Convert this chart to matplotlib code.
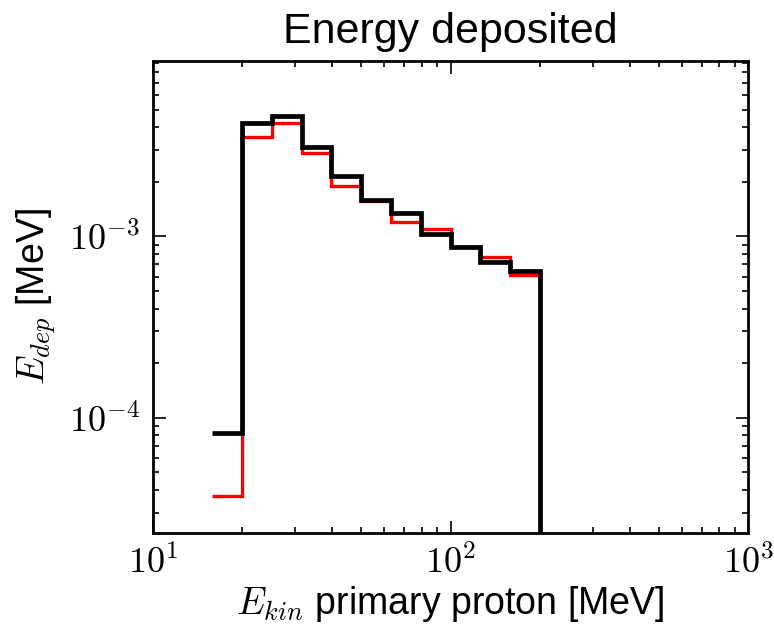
import numpy as np
import matplotlib
matplotlib.use("Agg")
import matplotlib.pyplot as plt
from matplotlib.ticker import FuncFormatter, LogLocator

plt.rcParams['font.family'] = ['Liberation Sans', 'DejaVu Sans']
plt.rcParams['mathtext.fontset'] = 'cm'

# log-spaced bin edges of the primary proton kinetic energy [MeV]
bin_edges = [15.85, 19.95, 25.12, 31.62, 39.81, 50.12, 63.10, 79.43, 100.0, 125.9, 158.5, 199.5]

# deposited energy per bin [MeV]
edep_red = [3.7e-5, 3.54e-3, 4.23e-3, 2.89e-3, 1.89e-3, 1.57e-3,
            1.20e-3, 1.093e-3, 0.87e-3, 0.769e-3, 0.610e-3]
edep_black = [8.2e-5, 4.2e-3, 4.62e-3, 3.12e-3, 2.15e-3, 1.585e-3,
              1.34e-3, 1.026e-3, 0.877e-3, 0.724e-3, 0.644e-3]

fig = plt.figure(figsize=(7.74, 6.25), dpi=100)
ax = fig.add_axes([0.1973, 0.1467, 0.7695, 0.7562])

# last point drops to zero so the histogram closes at the final edge
ax.plot(bin_edges, np.append(edep_red, 0.0), drawstyle='steps-post',
        color='#ff0000', linewidth=2.4, solid_joinstyle='miter', solid_capstyle='butt')
ax.plot(bin_edges, np.append(edep_black, 0.0), drawstyle='steps-post',
        color='black', linewidth=3.4, solid_joinstyle='miter', solid_capstyle='butt')

ax.set_xscale('log')
ax.set_yscale('log')
ax.set_xlim(10, 1000)
ax.set_ylim(2.31e-5, 9.29e-3)

fmt = FuncFormatter(lambda v, pos: r'$\mathrm{10^{%d}}$' % int(round(np.log10(v))))
ax.xaxis.set_major_formatter(fmt)
ax.yaxis.set_major_formatter(fmt)
ax.yaxis.set_major_locator(LogLocator(base=10))

ax.tick_params(which='both', direction='in', top=True, right=True, width=1.2)
ax.tick_params(which='major', length=9, labelsize=26, pad=9)
ax.tick_params(which='minor', length=4.5)
for s in ax.spines.values():
    s.set_linewidth(2.0)

ax.set_title('Energy deposited', fontsize=31, pad=13)
ax.set_xlabel(r'$E_{kin}$ primary proton [MeV]', fontsize=27, labelpad=2)
ax.set_ylabel(r'$E_{dep}$ [MeV]', fontsize=27, labelpad=8)

fig.savefig('out.png', dpi=100)
